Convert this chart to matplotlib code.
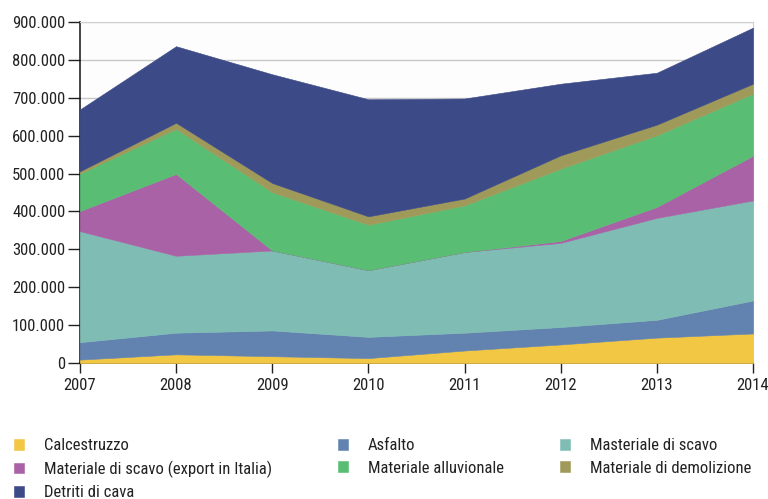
import matplotlib
matplotlib.use("Agg")
import matplotlib.pyplot as plt
from matplotlib.ticker import FuncFormatter

plt.rcParams["font.family"] = ["Roboto Condensed", "DejaVu Sans"]

years = [2007, 2008, 2009, 2010, 2011, 2012, 2013, 2014]
calcestruzzo = [9000, 23000, 18000, 13000, 33000, 49000, 67000, 78000]
asfalto = [46000, 57000, 68000, 56000, 47000, 46000, 47000, 87000]
scavo = [293000, 203000, 211000, 176000, 213000, 222000, 269000, 264000]
scavo_export = [53000, 216000, 0, 0, 0, 5000, 29000, 118000]
alluvionale = [99000, 119000, 154000, 120000, 123000, 191000, 189000, 164000]
demolizione = [6000, 16000, 24000, 22000, 18000, 35000, 28000, 26000]
detriti = [163000, 202000, 287000, 309000, 264000, 189000, 137000, 148000]

labels = ["Calcestruzzo", "Asfalto", "Masteriale di scavo",
          "Materiale di scavo (export in Italia)", "Materiale alluvionale",
          "Materiale di demolizione", "Detriti di cava"]
colors = ["#F2C744", "#6283B0", "#7FBDB4", "#A862A5", "#5ABD74", "#A09A5A", "#3C4A87"]

TXT = "#222222"

fig = plt.figure(figsize=(7.68, 4.99), dpi=100)
ax = fig.add_axes([0.104, 0.2725, 0.8765, 0.6835])
ax.set_facecolor("#fdfdfd")

polys = ax.stackplot(years, calcestruzzo, asfalto, scavo, scavo_export,
                     alluvionale, demolizione, detriti,
                     colors=colors, labels=labels, linewidth=0.4, zorder=3)
for p, c in zip(polys, colors):
    p.set_edgecolor(c)

ax.set_xlim(2007, 2014)
ax.set_ylim(0, 900000)
ax.set_yticks(range(0, 900001, 100000))
ax.set_xticks(years)
ax.yaxis.set_major_formatter(FuncFormatter(lambda v, p: f"{int(v):,}".replace(",", ".")))
ax.grid(axis="y", color="#c8c8c8", lw=1.0, zorder=0)

ax.tick_params(axis="y", length=8.5, width=1, pad=2, labelsize=12, colors=TXT)
ax.tick_params(axis="x", length=7, width=1, pad=3.5, labelsize=12, colors=TXT)
for s in ["left", "bottom"]:
    ax.spines[s].set_color("#111111")
    ax.spines[s].set_linewidth(1.1)
for s in ["top", "right"]:
    ax.spines[s].set_color("#d0d0d0")
    ax.spines[s].set_linewidth(0.8)

# legend in three columns, row-wise order as in the original
cols = [([0, 3, 6], 0.018), ([1, 4], 0.440), ([2, 5], 0.729)]
for idx, x0 in cols:
    leg = fig.legend([polys[i] for i in idx], [labels[i] for i in idx],
                     loc="upper left", bbox_to_anchor=(x0, 0.122),
                     frameon=False, fontsize=12, handlelength=0.6, handleheight=0.6,
                     handletextpad=1.2, labelspacing=0.45, borderpad=0, borderaxespad=0)
    for t in leg.get_texts():
        t.set_color(TXT)

fig.savefig("out.png", dpi=100, facecolor="white")
